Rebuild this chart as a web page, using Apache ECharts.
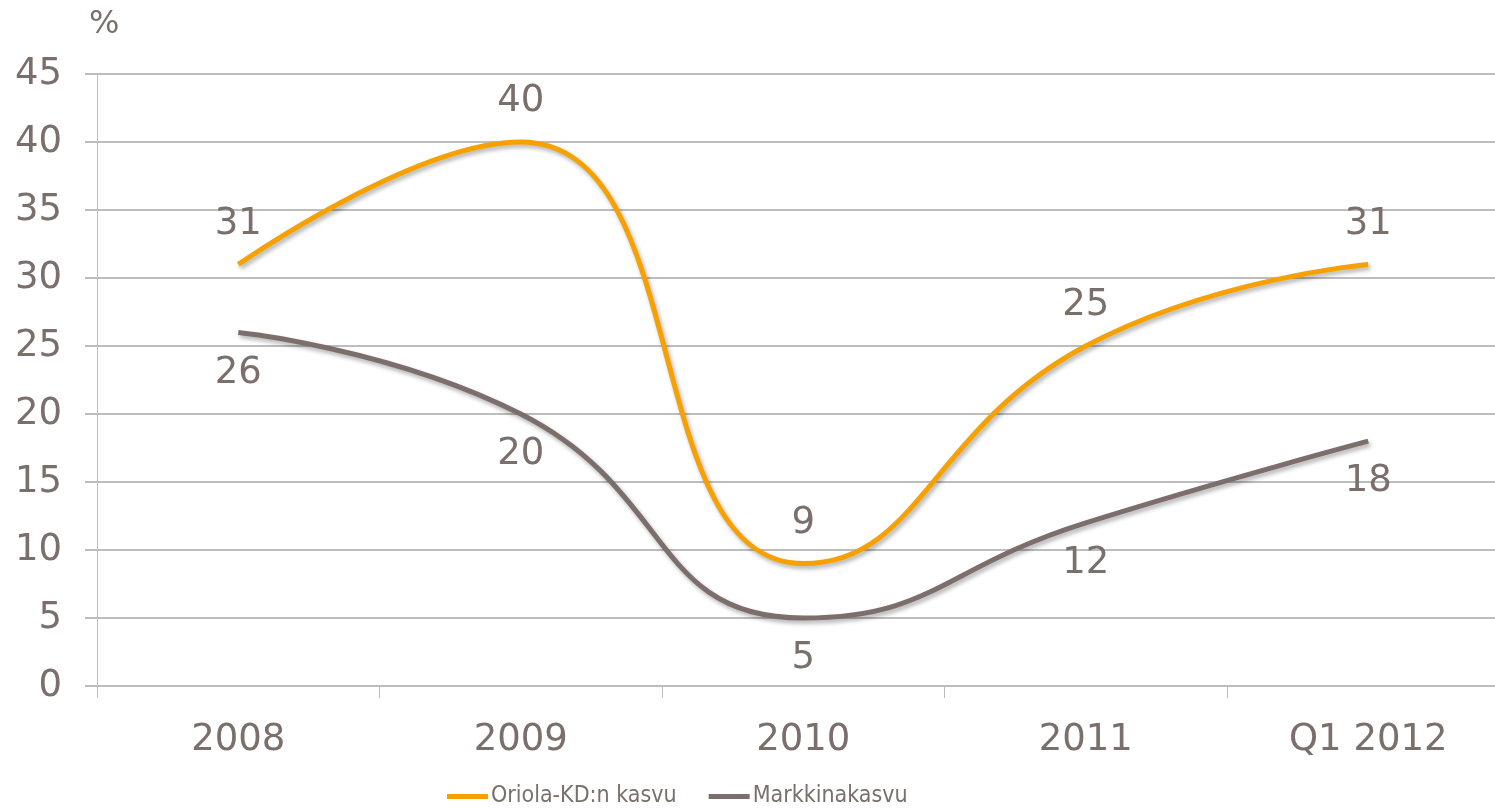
<!DOCTYPE html>
<html>
<head>
<meta charset="utf-8">
<script src="https://cdn.jsdelivr.net/npm/echarts@6/dist/echarts.min.js"></script>
<style>
  html, body { margin: 0; padding: 0; background: #fff; overflow: hidden; }
  /* plot runs past the right edge in the original, so the canvas is a bit wider */
  #chart { width: 1510px; height: 810px; }
</style>
</head>
<body>
<div id="chart"></div>
<script>
const categories = ['2008', '2009', '2010', '2011', 'Q1 2012']
const oriolaGrowth = [31, 40, 9, 25, 31]
const marketGrowth = [26, 20, 5, 12, 18]

const textColor = '#7a6f6b'
const font = 'DejaVu Sans'

const chart = echarts.init(document.getElementById('chart'))

const lineShadow = {
  shadowColor: 'rgba(0, 0, 0, 0.3)',
  shadowBlur: 4,
  shadowOffsetX: 2,
  shadowOffsetY: 3
}

const valueLabel = (position) => ({
  show: true,
  position: position,
  distance: 22,
  color: textColor,
  fontFamily: font,
  fontSize: 37
})

chart.setOption({
  animation: false,
  title: {
    text: '%',
    left: 84,
    top: 4,
    textStyle: { color: textColor, fontFamily: font, fontSize: 32, fontWeight: 'normal' }
  },
  grid: { left: 97, right: 0.5, top: 74, bottom: 124 },
  legend: {
    left: 442,
    top: 780,
    icon: 'rect',
    itemWidth: 41,
    itemHeight: 5,
    itemGap: 32,
    textStyle: {
      color: textColor,
      fontFamily: 'DejaVu Sans Condensed, DejaVu Sans',
      fontSize: 23,
      padding: [0, 0, 0, -2]
    },
    data: ['Oriola-KD:n kasvu', 'Markkinakasvu']
  },
  xAxis: {
    type: 'category',
    data: categories,
    boundaryGap: true,
    axisLine: { lineStyle: { color: '#bdbdbd', width: 2 } },
    axisTick: { show: true, length: 12, lineStyle: { color: '#bdbdbd', width: 1 } },
    axisLabel: { color: textColor, fontFamily: font, fontSize: 37, margin: 36 }
  },
  yAxis: {
    type: 'value',
    min: 0,
    max: 45,
    interval: 5,
    axisLine: { show: true, lineStyle: { color: '#bdbdbd', width: 1 } },
    axisTick: { show: true, length: 12, lineStyle: { color: '#bdbdbd', width: 2 } },
    splitLine: { lineStyle: { color: '#bdbdbd', width: 2 } },
    axisLabel: { color: textColor, fontFamily: font, fontSize: 37, margin: 35 }
  },
  series: [
    {
      name: 'Oriola-KD:n kasvu',
      type: 'line',
      smooth: 0.5,
      data: oriolaGrowth,
      showSymbol: true,
      symbolSize: 0,
      itemStyle: { color: '#f7a100' },
      lineStyle: Object.assign({ color: '#f7a100', width: 5 }, lineShadow),
      label: valueLabel('top'),
      z: 3
    },
    {
      name: 'Markkinakasvu',
      type: 'line',
      smooth: 0.5,
      data: marketGrowth,
      showSymbol: true,
      symbolSize: 0,
      itemStyle: { color: '#7c6f6b' },
      lineStyle: Object.assign({ color: '#7c6f6b', width: 5 }, lineShadow),
      label: valueLabel('bottom'),
      z: 2
    }
  ]
})
</script>
</body>
</html>
